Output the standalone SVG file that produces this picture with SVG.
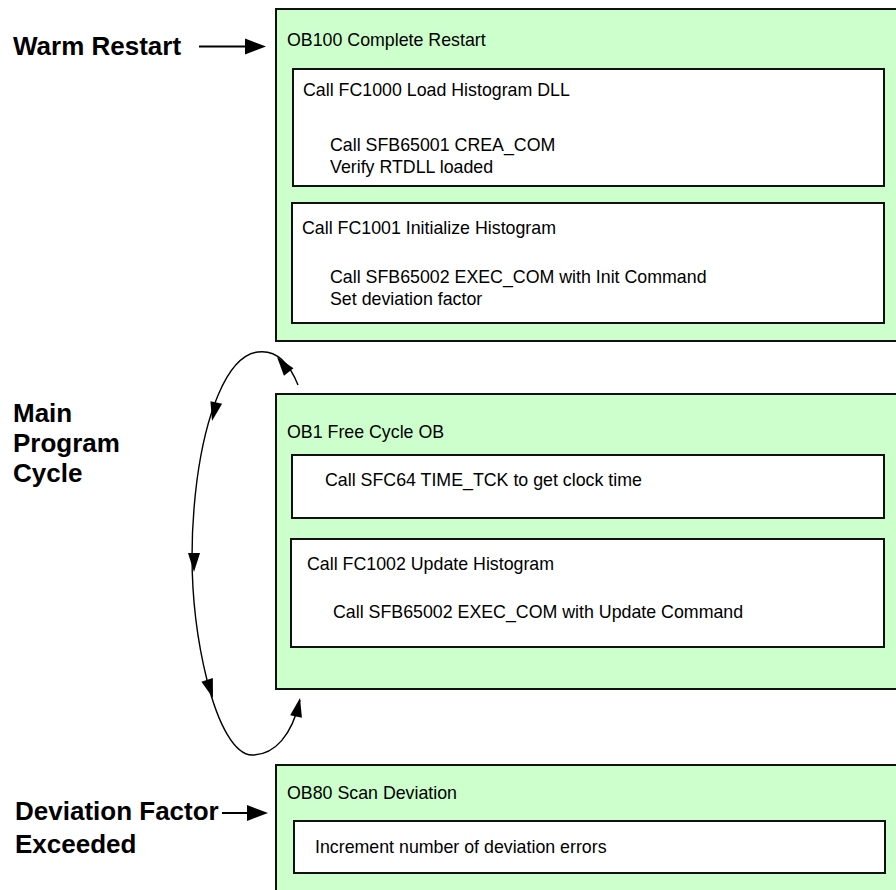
<svg xmlns="http://www.w3.org/2000/svg" xmlns:xlink="http://www.w3.org/1999/xlink" width="896" height="890" viewBox="0 0 896 890">
  <style>
    .ob { fill: #ccffcc; stroke: #111; stroke-width: 2; }
    .blk { fill: #ffffff; stroke: #111; stroke-width: 2; }
    .t { font-family: "Liberation Sans", Arial, sans-serif; font-size: 17.8px; fill: #000; }
    .lbl { font-family: "Liberation Sans", Arial, sans-serif; font-size: 26px; font-weight: bold; fill: #000; }
    .wire { fill: none; stroke: #000; stroke-width: 1.4; }
    .feed { fill: none; stroke: #000; stroke-width: 2; }
  </style>
  <defs>
    <!-- small head used on the cycle loop -->
    <path id="ah" d="M0,0 L-19,-6 L-19,6 Z" fill="#000"/>
    <!-- larger head used on the event arrows -->
    <path id="ahb" d="M0,0 L-21,-8 L-21,8 Z" fill="#000"/>
  </defs>

  <rect width="896" height="890" fill="#ffffff"/>

  <!-- Event labels -->
  <g id="lbl-warm">
    <text class="lbl" x="13" y="55">Warm Restart</text>
  </g>
  <g id="lbl-main">
    <text class="lbl" x="13" y="422">Main</text>
    <text class="lbl" x="13" y="452">Program</text>
    <text class="lbl" x="13" y="482">Cycle</text>
  </g>
  <g id="lbl-dev">
    <text class="lbl" x="15" y="820">Deviation Factor</text>
    <text class="lbl" x="15" y="853">Exceeded</text>
  </g>

  <!-- OB100 -->
  <g id="ob100">
    <rect class="ob" x="276" y="9" width="630" height="332"/>
    <text class="t" x="287" y="46">OB100 Complete Restart</text>
    <g id="fc1000">
      <rect class="blk" x="293" y="69" width="591" height="117"/>
      <text class="t" x="303" y="96">Call FC1000 Load Histogram DLL</text>
      <text class="t" x="330" y="151">Call SFB65001 CREA_COM</text>
      <text class="t" x="330" y="173">Verify RTDLL loaded</text>
    </g>
    <g id="fc1001">
      <rect class="blk" x="292" y="203" width="592" height="120"/>
      <text class="t" x="302" y="234">Call FC1001 Initialize Histogram</text>
      <text class="t" x="330" y="283">Call SFB65002 EXEC_COM with Init Command</text>
      <text class="t" x="330" y="305">Set deviation factor</text>
    </g>
  </g>

  <!-- OB1 -->
  <g id="ob1">
    <rect class="ob" x="276" y="394" width="630" height="295"/>
    <text class="t" x="287" y="438">OB1 Free Cycle OB</text>
    <g id="sfc64">
      <rect class="blk" x="292" y="455" width="592" height="63"/>
      <text class="t" x="325" y="486">Call SFC64 TIME_TCK to get clock time</text>
    </g>
    <g id="fc1002">
      <rect class="blk" x="291" y="539" width="593" height="108"/>
      <text class="t" x="307" y="570">Call FC1002 Update Histogram</text>
      <text class="t" x="333" y="618">Call SFB65002 EXEC_COM with Update Command</text>
    </g>
  </g>

  <!-- OB80 -->
  <g id="ob80">
    <rect class="ob" x="276" y="765" width="630" height="135"/>
    <text class="t" x="287" y="799">OB80 Scan Deviation</text>
    <g id="inc">
      <rect class="blk" x="294" y="821" width="591" height="52"/>
      <text class="t" x="315" y="853">Increment number of deviation errors</text>
    </g>
  </g>

  <!-- Connectors -->
  <g id="connectors">
    <line class="feed" x1="199" y1="46.5" x2="250" y2="46.5"/>
    <use xlink:href="#ahb" transform="translate(266,46.5)"/>
    <line class="feed" x1="222" y1="813" x2="252" y2="813"/>
    <use xlink:href="#ahb" transform="translate(268,813)"/>

    <path class="wire" d="M298,385 C288,360 274,350 258,352 C225,356 205,420 197,480 C188,550 192,620 207,680 C218,725 235,755 252,755 C275,755 292,735 300,700"/>
    <use xlink:href="#ah" transform="translate(277,357) rotate(-128)"/>
    <use xlink:href="#ah" transform="translate(212,421) rotate(103)"/>
    <use xlink:href="#ah" transform="translate(194,572) rotate(90)"/>
    <use xlink:href="#ah" transform="translate(213,698) rotate(72)"/>
    <use xlink:href="#ah" transform="translate(300,698) rotate(-78)"/>
  </g>
</svg>
